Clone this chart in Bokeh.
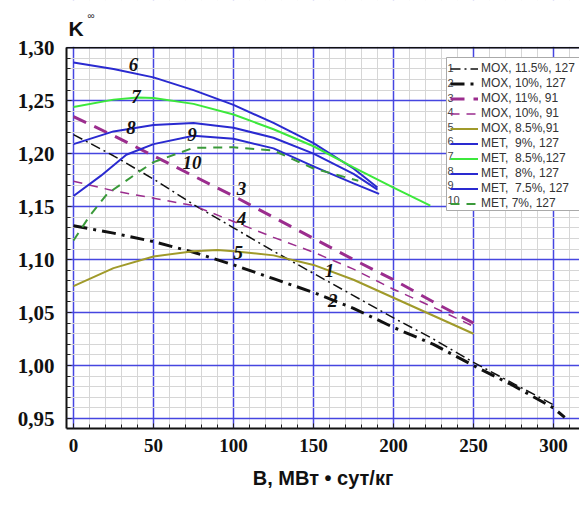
from bokeh.plotting import figure
from bokeh.models import (Range1d, FixedTicker, Legend, LegendItem, Label,
                          Span, BoxAnnotation)
from bokeh.embed import file_html
from bokeh.resources import INLINE

# ---- data ----
x1 = [0, 25, 50, 75, 100, 125, 150, 175, 200, 225, 250, 275, 300]
y1 = [1.218, 1.198, 1.176, 1.152, 1.130, 1.108, 1.087, 1.066, 1.045, 1.025, 1.003, 0.983, 0.963]
x2 = [0, 25, 50, 75, 100, 125, 150, 175, 200, 225, 250, 275, 300, 307]
y2 = [1.132, 1.125, 1.117, 1.107, 1.095, 1.082, 1.069, 1.054, 1.036, 1.020, 1.000, 0.981, 0.960, 0.951]
x3 = [0, 25, 50, 75, 100, 125, 150, 175, 200, 225, 250]
y3 = [1.235, 1.217, 1.198, 1.179, 1.160, 1.140, 1.120, 1.100, 1.081, 1.060, 1.040]
x4 = [0, 25, 50, 75, 100, 125, 150, 175, 200, 225, 250]
y4 = [1.174, 1.165, 1.158, 1.151, 1.136, 1.121, 1.107, 1.091, 1.072, 1.055, 1.037]
x5 = [0, 25, 50, 75, 90, 100, 125, 150, 175, 200, 225, 250]
y5 = [1.075, 1.092, 1.103, 1.108, 1.109, 1.108, 1.104, 1.095, 1.081, 1.064, 1.047, 1.030]
x6 = [0, 25, 50, 75, 100, 125, 150, 175, 190]
y6 = [1.286, 1.280, 1.272, 1.260, 1.246, 1.229, 1.210, 1.186, 1.168]
x7 = [0, 25, 40, 50, 75, 100, 125, 150, 175, 200, 223]
y7 = [1.244, 1.251, 1.253, 1.2525, 1.247, 1.237, 1.223, 1.207, 1.187, 1.168, 1.151]
x8 = [0, 25, 50, 75, 100, 125, 150, 175, 190]
y8 = [1.209, 1.221, 1.227, 1.229, 1.2245, 1.215, 1.200, 1.181, 1.166]
x9 = [0, 17, 33, 50, 75, 100, 125, 150, 175, 191]
y9 = [1.160, 1.179, 1.199, 1.209, 1.217, 1.214, 1.205, 1.188, 1.172, 1.162]
x10 = [0, 10, 21, 42, 50, 75, 100, 125, 150, 178]
y10 = [1.118, 1.141, 1.162, 1.184, 1.192, 1.2055, 1.206, 1.203, 1.186, 1.1745]

series_names = ["MOX, 11.5%, 127", "MOX, 10%, 127", "MOX, 11%, 91", "MOX, 10%, 91",
                "MOX, 8.5%,91", "MET,  9%, 127", "MET,  8.5%,127", "MET,  8%, 127",
                "MET,  7.5%, 127", "MET, 7%, 127"]
series_nums = ["1", "2", "3", "4", "5", "6", "7", "8", "9", "10"]

label_x = [160, 162, 105, 105, 103, 37.5, 39, 36, 74, 74]
label_y = [1.090, 1.061, 1.167, 1.139, 1.107, 1.284, 1.254, 1.225, 1.218, 1.192]

x_ticks = [0, 50, 100, 150, 200, 250, 300]
x_minor = list(range(0, 320, 10))
y_ticks = [0.95, 1.00, 1.05, 1.10, 1.15, 1.20, 1.25, 1.30]
y_tick_labels = ["0,95", "1,00", "1,05", "1,10", "1,15", "1,20", "1,25", "1,30"]
y_minor = [round(0.94 + 0.01 * i, 2) for i in range(37)]

# ---- layout / styles ----
W, H = 579, 506
B_LEFT, B_BOTTOM = 66, 78
PLOT_TOP_PX = 47            # pixel row of the 1,30 line
X0, X1 = -4.375, 316.25
Y0, YTOP = 0.9406, 1.3002   # visible chart area
FW = W - B_LEFT
ppx = FW / (X1 - X0)
ppy = (H - B_BOTTOM - PLOT_TOP_PX) / (YTOP - Y0)
Y1 = YTOP + PLOT_TOP_PX / ppy   # frame reaches the top of the canvas


def px_to_x(px):
    return X0 + (px - B_LEFT) / ppx


def py_to_y(py):
    return Y1 - py / ppy


styles = [
    dict(color="#111111", line_width=1.5, line_dash="10 4 2 4"),
    dict(color="#111111", line_width=3, line_dash="14 6 3 6"),
    dict(color="#9b2d8e", line_width=3, line_dash="14 9"),
    dict(color="#9b2d8e", line_width=1.5, line_dash="9 7"),
    dict(color="#a09a2a", line_width=2, line_dash="solid"),
    dict(color="#2a2ad0", line_width=2, line_dash="solid"),
    dict(color="#3ce83c", line_width=2, line_dash="solid"),
    dict(color="#2a2ad0", line_width=2, line_dash="solid"),
    dict(color="#2a2ad0", line_width=2, line_dash="solid"),
    dict(color="#3a9a3a", line_width=2, line_dash="9 7"),
]

p = figure(width=W, height=H, output_backend="svg", toolbar_location=None,
           x_range=Range1d(X0, X1), y_range=Range1d(Y0, Y1),
           min_border_left=B_LEFT, min_border_right=0, min_border_top=0,
           min_border_bottom=B_BOTTOM)
p.title.visible = False
p.outline_line_color = None
p.background_fill_color = "white"
p.border_fill_color = "white"

xa = p.xaxis[0]
ya = p.yaxis[0]
xa.ticker = FixedTicker(ticks=x_ticks, minor_ticks=x_minor)
ya.ticker = FixedTicker(ticks=y_ticks, minor_ticks=y_minor)
ya.bounds = (Y0, y_ticks[-1])
ya.major_label_overrides = {t: l for t, l in zip(y_ticks, y_tick_labels)}
for ax in (xa, ya):
    ax.axis_line_color = "#111111"
    ax.axis_line_width = 2
    ax.major_tick_in = 5
    ax.major_tick_out = 0
    ax.minor_tick_in = 4
    ax.minor_tick_out = 0
    ax.major_tick_line_color = "#222222"
    ax.minor_tick_line_color = "#222222"
    ax.major_label_text_font = "Liberation Serif"
    ax.major_label_text_font_style = "bold"
    ax.major_label_text_color = "#111111"
xa.major_label_text_font_size = "19px"
ya.major_label_text_font_size = "21px"
xa.major_label_standoff = 10
ya.major_label_standoff = 12
xa.axis_label = "В, МВт • сут/кг"
xa.axis_label_text_font = "Liberation Sans"
xa.axis_label_text_font_style = "bold"
xa.axis_label_text_font_size = "20px"
xa.axis_label_text_color = "#111111"
xa.axis_label_standoff = 12

for g, tk in ((p.xgrid[0], FixedTicker(ticks=x_ticks, minor_ticks=x_minor)),
              (p.ygrid[0], FixedTicker(ticks=y_ticks, minor_ticks=y_minor))):
    g.ticker = tk
    g.grid_line_color = "#4646e0"
    g.grid_line_width = 1.5
    g.minor_grid_line_color = "#d6d6d6"
    g.minor_grid_line_width = 1

# blank band above the chart area (hides grid lines there)
p.add_layout(BoxAnnotation(left=X0 - 10, right=X1 + 10, bottom=YTOP + 0.0008, top=Y1 + 0.01,
                           fill_color="white", fill_alpha=1.0, line_color=None))
# dark top border of the chart area
p.add_layout(Span(location=y_ticks[-1], dimension="width", line_color="#111111",
                  line_width=1.5))

xs = [x1, x2, x3, x4, x5, x6, x7, x8, x9, x10]
ys = [y1, y2, y3, y4, y5, y6, y7, y8, y9, y10]
items = []
for i in range(10):
    r = p.line(xs[i], ys[i], **styles[i])
    items.append(LegendItem(label=series_names[i], renderers=[r]))

# legend: white box behind, transparent legend, numbers in front of each entry
BOX_LEFT, LEG_LEFT, LEG_TOP, LEG_BOTTOM, LEG_PAD, ROW = 446, 450, 57, 210, 4, 14.6
p.add_layout(BoxAnnotation(left=px_to_x(BOX_LEFT), right=X1 + 20,
                           top=py_to_y(LEG_TOP), bottom=py_to_y(LEG_BOTTOM),
                           fill_color="white", fill_alpha=1.0,
                           line_color="#aaaaaa", line_width=1, line_alpha=1.0))

for i in range(10):
    p.add_layout(Label(x=px_to_x(BOX_LEFT + 1), y=py_to_y(LEG_TOP + LEG_PAD + 6.8 + i * ROW),
                       text=series_nums[i], text_font="Liberation Sans",
                       text_font_size="11px", text_color="#444444",
                       text_baseline="middle", text_align="left"))

legend = Legend(items=items, location=(LEG_LEFT - B_LEFT, H - B_BOTTOM - LEG_BOTTOM),
                orientation="vertical",
                label_text_font="Liberation Sans", label_text_font_size="12px",
                label_text_color="#333333", glyph_width=28, glyph_height=13,
                label_height=13, spacing=1, padding=LEG_PAD, margin=0, label_standoff=3,
                border_line_color=None, background_fill_alpha=0.0)
p.add_layout(legend, "center")

# curve number labels on the chart
for i in range(10):
    p.add_layout(Label(x=label_x[i], y=label_y[i], text=series_nums[i],
                       text_font="Liberation Serif", text_font_style="bold italic",
                       text_font_size="19px", text_color="#111111",
                       text_align="center", text_baseline="middle"))

# "K∞" above the chart area
p.add_layout(Label(x=px_to_x(68), y=py_to_y(28), text="K",
                   text_font="Liberation Sans", text_font_style="bold", text_font_size="21px",
                   text_color="#111111", text_baseline="alphabetic", text_align="left"))
p.add_layout(Label(x=px_to_x(87), y=py_to_y(15), text="∞",
                   text_font="Liberation Sans", text_font_size="10px",
                   text_color="#333333", text_baseline="alphabetic", text_align="left"))

open("out.html", "w").write(file_html(p, INLINE))
